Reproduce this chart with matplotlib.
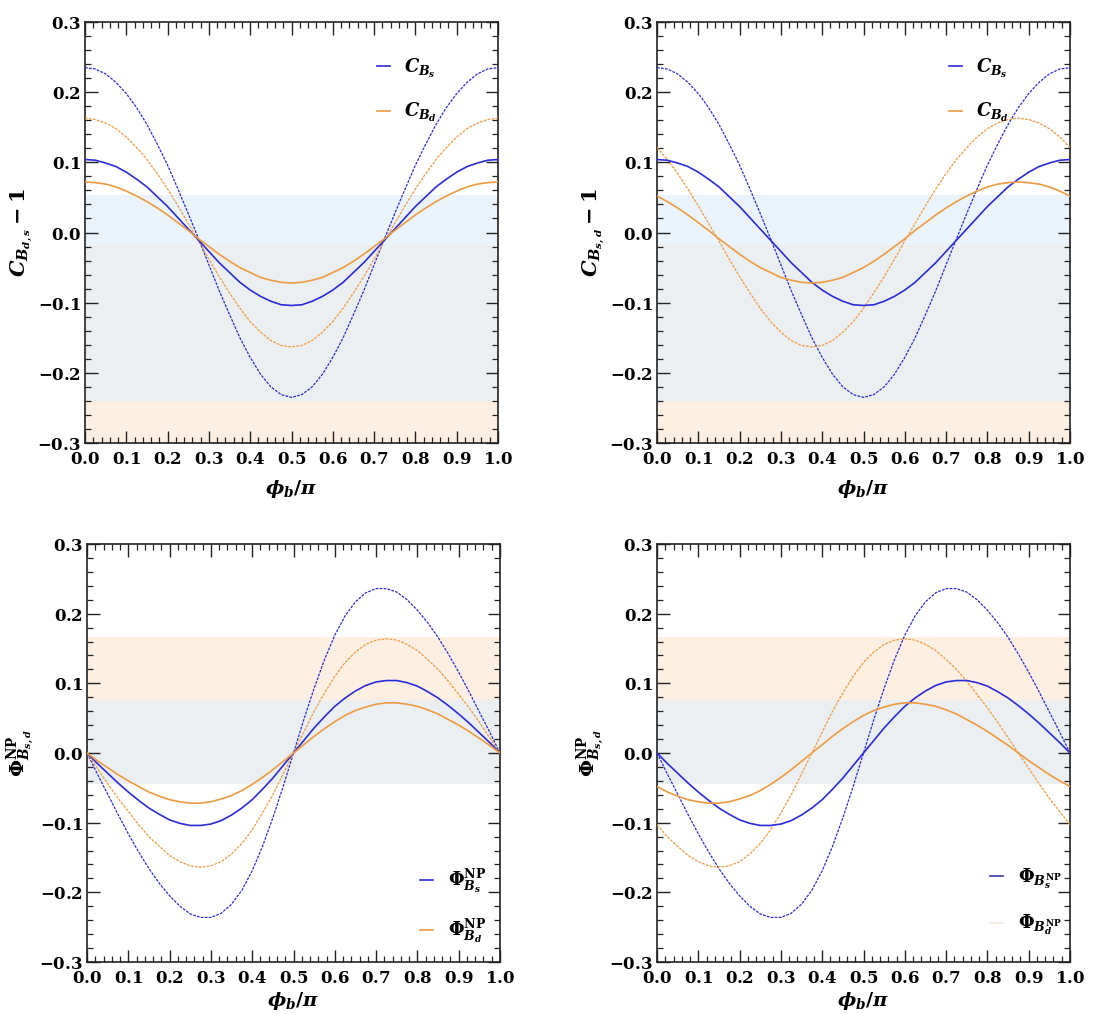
import numpy as np
import matplotlib
matplotlib.use('Agg')
import matplotlib.pyplot as plt
from matplotlib.ticker import MultipleLocator, FuncFormatter
from matplotlib.lines import Line2D

plt.rcParams['mathtext.fontset'] = 'custom'
plt.rcParams['mathtext.rm'] = 'DejaVu Serif:bold'
plt.rcParams['mathtext.bf'] = 'DejaVu Serif:bold'
plt.rcParams['mathtext.it'] = 'DejaVu Serif:italic:bold'
plt.rcParams['mathtext.sf'] = 'DejaVu Serif:bold'

# ---------------- data ----------------
phi = np.linspace(0.0, 1.0, 41)  # phi_b / pi

C_Bs_dashed = [0.235, 0.233, 0.226, 0.214, 0.198, 0.178, 0.154, 0.126, 0.096, 0.062, 0.027,
               -0.009, -0.046, -0.083, -0.117, -0.150, -0.178, -0.202, -0.220, -0.231, -0.235,
               -0.231, -0.220, -0.202, -0.178, -0.150, -0.117, -0.083, -0.046, -0.009, 0.027,
               0.062, 0.096, 0.126, 0.154, 0.178, 0.198, 0.214, 0.226, 0.233, 0.235]
C_Bs_solid = [0.104, 0.103, 0.099, 0.094, 0.086, 0.076, 0.065, 0.051, 0.037, 0.021, 0.005,
              -0.011, -0.027, -0.043, -0.057, -0.071, -0.082, -0.091, -0.098, -0.103, -0.104,
              -0.103, -0.098, -0.091, -0.082, -0.071, -0.057, -0.043, -0.027, -0.011, 0.005,
              0.021, 0.037, 0.051, 0.065, 0.076, 0.086, 0.094, 0.099, 0.103, 0.104]
C_Bd_dashed = [0.163, 0.161, 0.156, 0.148, 0.136, 0.121, 0.104, 0.084, 0.062, 0.038, 0.013,
               -0.012, -0.038, -0.063, -0.086, -0.108, -0.127, -0.142, -0.154, -0.161, -0.163,
               -0.161, -0.154, -0.142, -0.127, -0.108, -0.086, -0.063, -0.038, -0.012, 0.013,
               0.038, 0.062, 0.084, 0.104, 0.121, 0.136, 0.148, 0.156, 0.161, 0.163]
C_Bd_solid = [0.072, 0.071, 0.069, 0.065, 0.059, 0.052, 0.044, 0.035, 0.025, 0.014, 0.003,
              -0.009, -0.020, -0.031, -0.041, -0.050, -0.057, -0.064, -0.068, -0.071, -0.072,
              -0.071, -0.068, -0.064, -0.057, -0.050, -0.041, -0.031, -0.020, -0.009, 0.003,
              0.014, 0.025, 0.035, 0.044, 0.052, 0.059, 0.065, 0.069, 0.071, 0.072]
# top-right panel: B_d curves with shifted phase
C_Bd_dashed_shift = [0.121, 0.104, 0.084, 0.062, 0.038, 0.013, -0.012, -0.038, -0.063, -0.086, -0.108,
                     -0.127, -0.142, -0.154, -0.161, -0.163, -0.161, -0.154, -0.142, -0.127, -0.108,
                     -0.086, -0.063, -0.038, -0.012, 0.013, 0.038, 0.062, 0.084, 0.104, 0.121,
                     0.136, 0.148, 0.156, 0.161, 0.163, 0.161, 0.156, 0.148, 0.136, 0.121]
C_Bd_solid_shift = [0.052, 0.044, 0.035, 0.025, 0.014, 0.003, -0.009, -0.020, -0.031, -0.041, -0.050,
                    -0.057, -0.064, -0.068, -0.071, -0.072, -0.071, -0.068, -0.064, -0.057, -0.050,
                    -0.041, -0.031, -0.020, -0.009, 0.003, 0.014, 0.025, 0.035, 0.044, 0.052,
                    0.059, 0.065, 0.069, 0.071, 0.072, 0.071, 0.069, 0.065, 0.059, 0.052]

Phi_Bs_dashed = [0.000, -0.030, -0.059, -0.088, -0.116, -0.142, -0.166, -0.187, -0.205, -0.220, -0.231,
                 -0.236, -0.236, -0.230, -0.217, -0.197, -0.169, -0.134, -0.093, -0.048, 0.000,
                 0.048, 0.093, 0.134, 0.169, 0.197, 0.217, 0.230, 0.236, 0.236, 0.231,
                 0.220, 0.205, 0.187, 0.166, 0.142, 0.116, 0.088, 0.059, 0.030, 0.000]
Phi_Bs_solid = [0.000, -0.015, -0.029, -0.043, -0.056, -0.068, -0.079, -0.088, -0.096, -0.101, -0.104,
                -0.104, -0.102, -0.097, -0.089, -0.079, -0.067, -0.052, -0.036, -0.018, 0.000,
                0.018, 0.036, 0.052, 0.067, 0.079, 0.089, 0.097, 0.102, 0.104, 0.104,
                0.101, 0.096, 0.088, 0.079, 0.068, 0.056, 0.043, 0.029, 0.015, 0.000]
Phi_Bd_dashed = [0.000, -0.022, -0.044, -0.065, -0.084, -0.103, -0.120, -0.134, -0.147, -0.156, -0.162,
                 -0.164, -0.162, -0.156, -0.145, -0.130, -0.110, -0.086, -0.060, -0.030, 0.000,
                 0.030, 0.060, 0.086, 0.110, 0.130, 0.145, 0.156, 0.162, 0.164, 0.162,
                 0.156, 0.147, 0.134, 0.120, 0.103, 0.084, 0.065, 0.044, 0.022, 0.000]
Phi_Bd_solid = [0.000, -0.011, -0.021, -0.031, -0.040, -0.048, -0.056, -0.062, -0.067, -0.070, -0.072,
                -0.072, -0.070, -0.066, -0.061, -0.054, -0.045, -0.035, -0.024, -0.012, 0.000,
                0.012, 0.024, 0.035, 0.045, 0.054, 0.061, 0.066, 0.070, 0.072, 0.072,
                0.070, 0.067, 0.062, 0.056, 0.048, 0.040, 0.031, 0.021, 0.011, 0.000]
# bottom-right panel: B_d curves with shifted phase
Phi_Bd_dashed_shift = [-0.103, -0.120, -0.134, -0.147, -0.156, -0.162, -0.164, -0.162, -0.156, -0.145, -0.130,
                       -0.110, -0.086, -0.060, -0.030, 0.000, 0.030, 0.060, 0.086, 0.110, 0.130,
                       0.145, 0.156, 0.162, 0.164, 0.162, 0.156, 0.147, 0.134, 0.120, 0.103,
                       0.084, 0.065, 0.044, 0.022, 0.000, -0.022, -0.044, -0.065, -0.084, -0.103]
Phi_Bd_solid_shift = [-0.048, -0.056, -0.062, -0.067, -0.070, -0.072, -0.072, -0.070, -0.066, -0.061, -0.054,
                      -0.045, -0.035, -0.024, -0.012, 0.000, 0.012, 0.024, 0.035, 0.045, 0.054,
                      0.061, 0.066, 0.070, 0.072, 0.072, 0.070, 0.067, 0.062, 0.056, 0.048,
                      0.040, 0.031, 0.021, 0.011, 0.000, -0.011, -0.021, -0.031, -0.040, -0.048]

# experimental bands (y ranges)
top_bands = [(0.053, -0.018, '#ebf4fc'), (-0.018, -0.240, '#eceff2'), (-0.240, -0.300, '#fdf0e3')]
bottom_bands = [(0.167, 0.076, '#fdf0e3'), (0.076, -0.044, '#eceff2')]

BLUE = '#2b2bd8'
ORANGE = '#ee9a40'

W, H = 1094, 1014
fig = plt.figure(figsize=(W / 100, H / 100), dpi=100)

def px_axes(l, t, r, b):
    return fig.add_axes([l / W, 1 - b / H, (r - l) / W, (b - t) / H])

def fmt(v, pos):
    s = f'{v:.1f}'
    if s == '-0.0':
        s = '0.0'
    return r'$\mathbf{' + s + '}$'

def style(ax, ylabel, xpad, yfs):
    ax.set_xlim(0, 1)
    ax.set_ylim(-0.3, 0.3)
    ax.xaxis.set_major_locator(MultipleLocator(0.1))
    ax.xaxis.set_minor_locator(MultipleLocator(0.02))
    ax.yaxis.set_major_locator(MultipleLocator(0.1))
    ax.yaxis.set_minor_locator(MultipleLocator(0.02))
    ax.xaxis.set_major_formatter(FuncFormatter(fmt))
    ax.yaxis.set_major_formatter(FuncFormatter(fmt))
    ax.tick_params(which='both', direction='in', top=True, right=True, color='#222222')
    ax.tick_params(which='major', length=9, width=1.0, labelsize=12, pad=3)
    ax.tick_params(axis='x', which='major', pad=5)
    ax.tick_params(which='minor', length=4.5, width=0.9)
    for sp in ax.spines.values():
        sp.set_linewidth(1.2)
        sp.set_color('#222222')
    ax.set_xlabel(r'$\phi_b/\pi$', fontsize=14, labelpad=xpad)
    ax.set_ylabel(ylabel, fontsize=yfs)
    ax.yaxis.set_label_coords(-0.12, 0.5)

def bands(ax, blist):
    for top, bot, col in blist:
        ax.axhspan(bot, top, color=col, lw=0, zorder=0)

dash = (0, (2.2, 1.0))

def draw(ax, bs_d, bs_s, bd_d, bd_s):
    ax.plot(phi, bs_d, color=BLUE, lw=0.9, ls=dash, zorder=3)
    ax.plot(phi, bd_d, color=ORANGE, lw=0.9, ls=dash, zorder=3)
    ax.plot(phi, bs_s, color=BLUE, lw=1.2, zorder=4)
    ax.plot(phi, bd_s, color=ORANGE, lw=1.2, zorder=4)

def legend(ax, labels, colors, anchor):
    handles = [Line2D([], [], color=c, lw=1.2) for c in colors]
    ax.legend(handles, labels, loc='upper left', bbox_to_anchor=anchor, frameon=False,
              fontsize=13, handlelength=0.7, handletextpad=0.8, labelspacing=1.2,
              borderaxespad=0)

ax1 = px_axes(85, 22, 498, 443)
bands(ax1, top_bands)
draw(ax1, C_Bs_dashed, C_Bs_solid, C_Bd_dashed, C_Bd_solid)
style(ax1, r'$C_{B_{d,s}}-1$', 7, 15)
legend(ax1, [r'$C_{B_s}$', r'$C_{B_d}$'], [BLUE, ORANGE], (0.69, 0.935))

ax2 = px_axes(657, 22, 1070, 443)
bands(ax2, top_bands)
draw(ax2, C_Bs_dashed, C_Bs_solid, C_Bd_dashed_shift, C_Bd_solid_shift)
style(ax2, r'$C_{B_{s,d}}-1$', 7, 15)
legend(ax2, [r'$C_{B_s}$', r'$C_{B_d}$'], [BLUE, ORANGE], (0.69, 0.935))

ax3 = px_axes(87, 544, 500, 962)
bands(ax3, bottom_bands)
draw(ax3, Phi_Bs_dashed, Phi_Bs_solid, Phi_Bd_dashed, Phi_Bd_solid)
style(ax3, r'$\Phi^{\rm NP}_{B_{s,d}}$', 2, 14)
legend(ax3, [r'$\Phi^{\rm NP}_{B_s}$', r'$\Phi^{\rm NP}_{B_d}$'],
       [BLUE, ORANGE], (0.79, 0.245))

ax4 = px_axes(657, 544, 1070, 962)
bands(ax4, bottom_bands)
draw(ax4, Phi_Bs_dashed, Phi_Bs_solid, Phi_Bd_dashed_shift, Phi_Bd_solid_shift)
style(ax4, r'$\Phi^{\rm NP}_{B_{s,d}}$', 2, 14)
legend(ax4, [r'$\Phi_{B_s^{\rm NP}}$', r'$\Phi_{B_d^{\rm NP}}$'],
       ['#3a3aa8', '#f2eadb'], (0.79, 0.245))

fig.savefig('out.png', dpi=100)
